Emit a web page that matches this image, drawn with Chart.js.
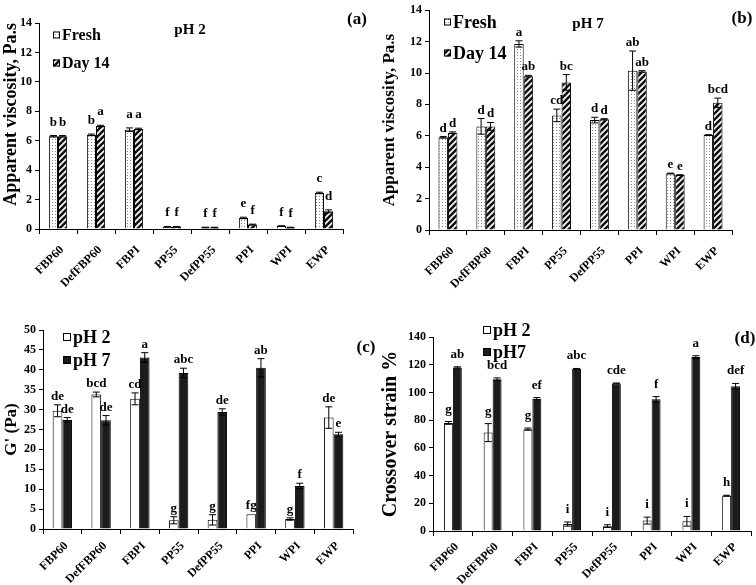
<!DOCTYPE html>
<html>
<head>
<meta charset="utf-8">
<script src="https://cdn.jsdelivr.net/npm/chart.js@4"></script>
<style>
  body { margin: 0; background: #fff; }
  .panel { position: absolute; }
</style>
</head>
<body>
<div class="panel" style="left:0;top:0"><canvas id="chartA" width="378" height="300"></canvas></div>
<div class="panel" style="left:378px;top:0"><canvas id="chartB" width="378" height="300"></canvas></div>
<div class="panel" style="left:0;top:300px"><canvas id="chartC" width="378" height="285"></canvas></div>
<div class="panel" style="left:378px;top:300px"><canvas id="chartD" width="378" height="285"></canvas></div>
<script>
const categories = ['FBP60', 'DefFBP60', 'FBPI', 'PP55', 'DefPP55', 'PPI', 'WPI', 'EWP'];

// (a) apparent viscosity, pH 2
const viscPh2Fresh = [6.3, 6.4, 6.75, 0.15, 0.1, 0.75, 0.2, 2.45];
const viscPh2FreshErr = [0.05, 0.05, 0.12, 0.02, 0.02, 0.05, 0.02, 0.05];
const viscPh2FreshLetters = ['b', 'b', 'a', 'f', 'f', 'e', 'f', 'c'];
const viscPh2Day14 = [6.3, 7.0, 6.8, 0.15, 0.1, 0.3, 0.1, 1.2];
const viscPh2Day14Err = [0.05, 0.05, 0.05, 0.02, 0.02, 0.03, 0.02, 0.1];
const viscPh2Day14Letters = ['b', 'a', 'a', 'f', 'f', 'f', 'f', 'd'];

// (b) apparent viscosity, pH 7
const viscPh7Fresh = [5.9, 6.6, 11.85, 7.3, 7.0, 10.15, 3.6, 6.05];
const viscPh7FreshErr = [0.05, 0.5, 0.2, 0.4, 0.18, 1.25, 0.02, 0.02];
const viscPh7FreshLetters = ['d', 'd', 'a', 'cd', 'd', 'ab', 'e', 'd'];
const viscPh7Day14 = [6.2, 6.6, 9.8, 9.4, 7.05, 10.1, 3.5, 8.1];
const viscPh7Day14Err = [0.05, 0.25, 0.05, 0.5, 0.04, 0.05, 0.02, 0.3];
const viscPh7Day14Letters = ['d', 'd', 'ab', 'bc', 'd', 'ab', 'e', 'bcd'];

// (c) G' (Pa)
const gPh2 = [29.7, 33.8, 32.7, 2.2, 2.3, 3.7, 2.5, 28.0];
const gPh2Err = [1.5, 0.6, 1.5, 0.9, 1.3, 0, 0.3, 2.7];
const gPh2Letters = ['de', 'bcd', 'cd', 'g', 'g', 'fg', 'g', 'de'];
const gPh7 = [27.4, 27.3, 43.1, 39.2, 29.4, 40.5, 10.8, 23.8];
const gPh7Err = [0.6, 1.2, 1.2, 1.2, 0.8, 2.3, 0.7, 0.5];
const gPh7Letters = ['de', 'de', 'a', 'abc', 'de', 'ab', 'f', 'e'];

// (d) crossover strain %
const strainPh2 = [78, 71, 73.5, 5, 3.5, 7.5, 7, 25.5];
const strainPh2Err = [1, 6.5, 0.8, 1.5, 1, 2.5, 3.5, 0.3];
const strainPh2Letters = ['g', 'g', 'g', 'i', 'i', 'i', 'i', 'h'];
const strainPh7 = [118, 109.5, 95.5, 117, 106.5, 95, 125.5, 104.5];
const strainPh7Err = [0.5, 1, 0.8, 0.3, 0.3, 2, 1, 2];
const strainPh7Letters = ['ab', 'bcd', 'ef', 'abc', 'cde', 'f', 'a', 'def'];

const FONT = "'Liberation Serif', 'Times New Roman', serif";

function dotPattern() {
    const c = document.createElement('canvas');
    c.width = 3; c.height = 3;
    const g = c.getContext('2d');
    g.fillStyle = '#fff';
    g.fillRect(0, 0, 3, 3);
    g.fillStyle = '#8a8a8a';
    g.fillRect(1, 1, 1, 1);
    return g.createPattern(c, 'repeat');
}

function hatchPattern() {
    const s = 6;
    const c = document.createElement('canvas');
    c.width = s; c.height = s;
    const g = c.getContext('2d');
    g.fillStyle = '#fff';
    g.fillRect(0, 0, s, s);
    g.strokeStyle = '#111';
    g.lineWidth = 2.6;
    g.beginPath();
    g.moveTo(0, s); g.lineTo(s, 0);
    g.moveTo(-1, 1); g.lineTo(1, -1);
    g.moveTo(s - 1, s + 1); g.lineTo(s + 1, s - 1);
    g.stroke();
    return g.createPattern(c, 'repeat');
}

const dotFill = dotPattern();
const hatchFill = hatchPattern();

// error bars, letters, legend, inner title and panel label
function decor(cfg) {
    return {
        id: 'decor',
        afterDatasetsDraw(chart) {
            const ctx = chart.ctx;
            const y = chart.scales.y;
            ctx.save();
            ctx.strokeStyle = '#000';
            ctx.fillStyle = '#000';
            ctx.lineWidth = 1;
            ctx.font = 'bold 13px ' + FONT;
            ctx.textAlign = 'center';
            ctx.textBaseline = 'alphabetic';
            chart.data.datasets.forEach((ds, di) => {
                const meta = chart.getDatasetMeta(di);
                meta.data.forEach((bar, i) => {
                    const v = ds.data[i];
                    const e = cfg.errors[di][i];
                    const top = y.getPixelForValue(v + e);
                    if (e > 0) {
                        const bot = y.getPixelForValue(v - e);
                        ctx.beginPath();
                        ctx.moveTo(bar.x, top); ctx.lineTo(bar.x, bot);
                        ctx.moveTo(bar.x - 3.5, top); ctx.lineTo(bar.x + 3.5, top);
                        ctx.moveTo(bar.x - 3.5, bot); ctx.lineTo(bar.x + 3.5, bot);
                        ctx.stroke();
                    }
                    ctx.fillText(cfg.letters[di][i], bar.x, top - cfg.gap);
                });
            });

            // legend
            ctx.textAlign = 'left';
            ctx.textBaseline = 'middle';
            ctx.font = 'bold ' + cfg.legendSize + 'px ' + FONT;
            chart.data.datasets.forEach((ds, di) => {
                const lx = cfg.legendX, ly = cfg.legendY[di], b = cfg.boxSize;
                ctx.fillStyle = ds.backgroundColor;
                ctx.fillRect(lx, ly - b / 2, b, b);
                ctx.strokeRect(lx + 0.5, ly - b / 2 + 0.5, b - 1, b - 1);
                ctx.fillStyle = '#000';
                ctx.fillText(ds.label, lx + b + 2, ly + 1);
            });

            ctx.textAlign = 'center';
            if (cfg.title) {
                ctx.font = 'bold 15px ' + FONT;
                ctx.fillText(cfg.title, cfg.titleX, cfg.titleY);
            }
            ctx.font = 'bold 17px ' + FONT;
            ctx.fillText(cfg.panel, cfg.panelX, cfg.panelY);
            ctx.restore();
        }
    };
}

function makeChart(id, cfg) {
    const axisGrid = { display: true, drawOnChartArea: false, drawTicks: true, tickLength: 5, color: '#000' };
    const tickFont = { family: FONT, weight: 'bold', size: 12 };
    return new Chart(document.getElementById(id), {
        type: 'bar',
        data: {
            labels: categories,
            datasets: cfg.series.map(s => ({
                label: s.label,
                data: s.data,
                backgroundColor: s.fill,
                borderColor: '#000',
                borderWidth: 1,
                categoryPercentage: cfg.catPct,
                barPercentage: 1
            }))
        },
        options: {
            responsive: false,
            animation: false,
            layout: { padding: { top: cfg.top, right: cfg.right, left: 0, bottom: 0 } },
            plugins: { legend: { display: false }, tooltip: { enabled: false } },
            scales: {
                x: {
                    grid: axisGrid,
                    border: { color: '#000', width: 1 },
                    ticks: { color: '#000', font: tickFont, minRotation: 45, maxRotation: 45, padding: cfg.xPad, labelOffset: 4 },
                    afterFit: s => { s.height = cfg.xh; }
                },
                y: {
                    min: 0,
                    max: cfg.max,
                    grid: Object.assign({}, axisGrid, { tickLength: 4 }),
                    border: { color: '#000', width: 1 },
                    ticks: { stepSize: cfg.step, color: '#000', font: { family: FONT, weight: 'bold', size: 12 }, padding: 3 },
                    title: {
                        display: true, text: cfg.yTitle, color: '#000', align: cfg.yTitleAlign,
                        font: { family: FONT, weight: 'bold', size: cfg.yTitleSize }, padding: { top: 1, bottom: 2 }
                    },
                    afterFit: s => { s.width = cfg.yw; }
                }
            }
        },
        plugins: [decor(cfg)]
    });
}

makeChart('chartA', {
    series: [
        { label: 'Fresh', data: viscPh2Fresh, fill: dotFill },
        { label: 'Day 14', data: viscPh2Day14, fill: hatchFill }
    ],
    errors: [viscPh2FreshErr, viscPh2Day14Err],
    letters: [viscPh2FreshLetters, viscPh2Day14Letters],
    max: 14, step: 2, yTitle: 'Apparent viscosity, Pa.s', yTitleSize: 18, yTitleAlign: 'end',
    yw: 39, xh: 71, xPad: 9, top: 23, right: 35, catPct: 0.48, gap: 10,
    legendX: 53, legendY: [35, 63], boxSize: 7, legendSize: 16,
    title: 'pH 2', titleX: 190, titleY: 30,
    panel: '(a)', panelX: 357, panelY: 20
});

makeChart('chartB', {
    series: [
        { label: 'Fresh', data: viscPh7Fresh, fill: dotFill },
        { label: 'Day 14', data: viscPh7Day14, fill: hatchFill }
    ],
    errors: [viscPh7FreshErr, viscPh7Day14Err],
    letters: [viscPh7FreshLetters, viscPh7Day14Letters],
    max: 14, step: 2, yTitle: 'Apparent viscosity, Pa.s', yTitleSize: 17, yTitleAlign: 'center',
    yw: 51, xh: 70, xPad: 9, top: 6, right: 24, catPct: 0.5, gap: 5,
    legendX: 66, legendY: [22, 53], boxSize: 7, legendSize: 18,
    title: 'pH 7', titleX: 210, titleY: 24,
    panel: '(b)', panelX: 364, panelY: 19
});

makeChart('chartC', {
    series: [
        { label: 'pH 2', data: gPh2, fill: '#fff' },
        { label: 'pH 7', data: gPh7, fill: '#1c1c1c' }
    ],
    errors: [gPh2Err, gPh7Err],
    letters: [gPh2Letters, gPh7Letters],
    max: 50, step: 5, yTitle: "G' (Pa)", yTitleSize: 17, yTitleAlign: 'center',
    yw: 43, xh: 56, xPad: 5, top: 30, right: 25, catPct: 0.5, gap: 5,
    legendX: 63, legendY: [37, 60], boxSize: 8, legendSize: 18,
    panel: '(c)', panelX: 366, panelY: 48
});

makeChart('chartD', {
    series: [
        { label: 'pH 2', data: strainPh2, fill: '#fff' },
        { label: 'pH7', data: strainPh7, fill: '#1c1c1c' }
    ],
    errors: [strainPh2Err, strainPh7Err],
    letters: [strainPh2Letters, strainPh7Letters],
    max: 140, step: 20, yTitle: 'Crossover strain %', yTitleSize: 20, yTitleAlign: 'center',
    yw: 55, xh: 54, xPad: 4, top: 37, right: 5, catPct: 0.45, gap: 9,
    legendX: 105, legendY: [30, 52], boxSize: 8, legendSize: 18,
    panel: '(d)', panelX: 367, panelY: 39
});
</script>
</body>
</html>
